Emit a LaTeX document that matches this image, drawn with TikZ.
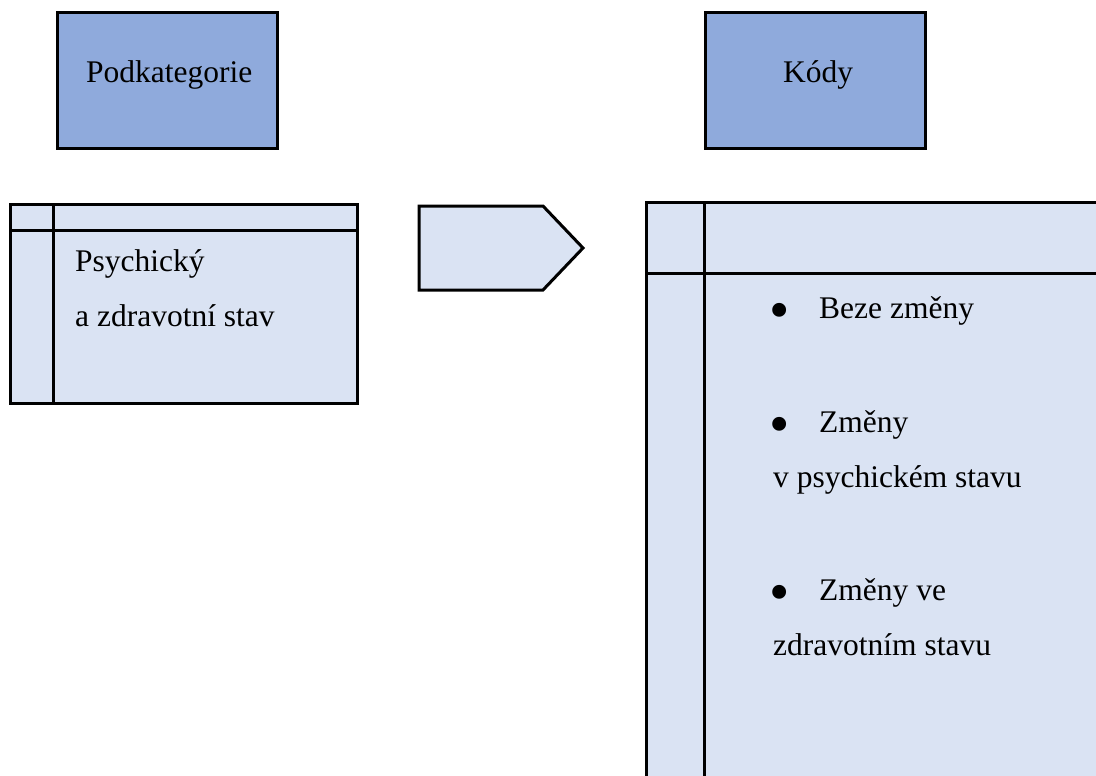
\documentclass[tikz,border=0pt]{standalone}
\usepackage{fontspec}
\setmainfont{Liberation Serif}
\usetikzlibrary{calc}
\definecolor{headfill}{RGB}{143,170,220}
\definecolor{boxfill}{RGB}{218,227,243}

\tikzset{
  headbox/.style={draw, line width=3, fill=headfill, minimum width=220, minimum height=135, inner sep=0},
  listbox/.style={draw, line width=3, fill=boxfill},
  rule/.style={line width=3},
  txt/.style={anchor=base west, inner sep=0, font=\fontsize{31.5}{55}\selectfont},
  dot/.style={anchor=base west, inner sep=0, font=\fontsize{58}{60}\selectfont}
}

\begin{document}
\begin{tikzpicture}[x=1pt,y=1pt,yscale=-1,xscale=1]
\useasboundingbox (0,0) rectangle (1096,776);
\clip (0,0) rectangle (1096,776);

% Header boxes
\node [headbox] (podkat) at (167,80.5) {};
\node [txt] (podkattxt) at (86,83) {Podkategorie};
\node [headbox] (kody) at (815,80.5) {};
\node [txt] (kodytxt) at (783,83) {Kódy};

% Left box
\draw [listbox] (10,204) rectangle (357,403);
\draw [rule] (53,204) -- (53,403);
\draw [rule] (10,230) -- (357,230);
\node [txt] (psych) at (75,271) {Psychický};
\node [txt] (zdrav) at (75,326) {a zdravotní stav};

% Pentagon
\draw [listbox] (419,206) -- (543,206) -- (583,248) -- (543,290) -- (419,290) -- cycle;

% Right box
\draw [listbox] (646,202) rectangle (1110,800);
\draw [rule] (704,202) -- (704,800);
\draw [rule] (646,273) -- (1110,273);
\node [dot] (b1) at (769,329) {•};
\node [txt] (beze) at (819,318) {Beze změny};
\node [dot] (b2) at (769,443) {•};
\node [txt] (zmeny) at (819,432) {Změny};
\node [txt] (vpsych) at (773,487) {v psychickém stavu};
\node [dot] (b3) at (769,611) {•};
\node [txt] (zmenyve) at (819,600) {Změny ve};
\node [txt] (vzdrav) at (773,655) {zdravotním stavu};

\end{tikzpicture}
\end{document}
